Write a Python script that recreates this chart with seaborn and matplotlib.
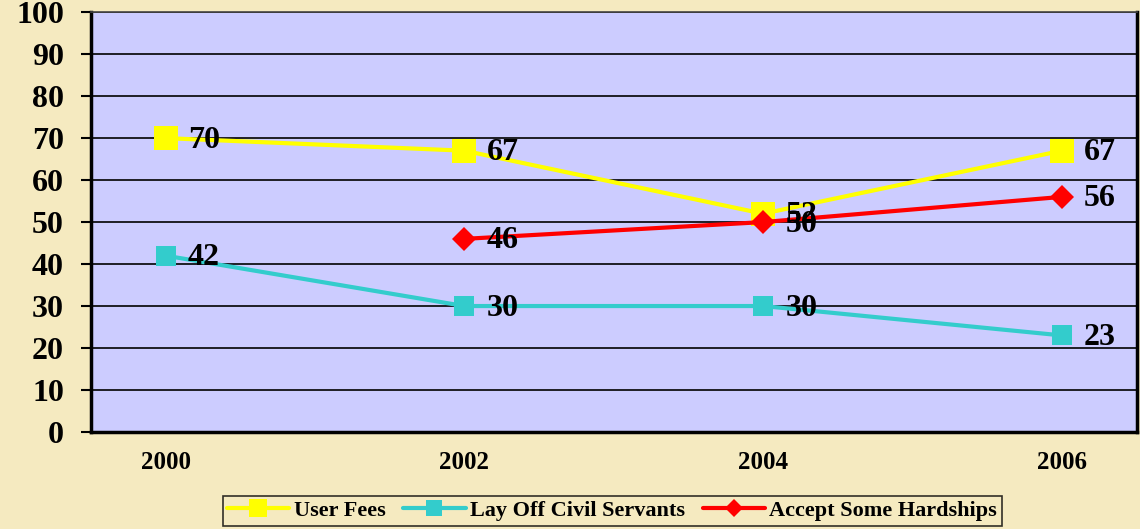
import numpy as np
import pandas as pd
import matplotlib
matplotlib.use("Agg")
import matplotlib.pyplot as plt
import seaborn as sns

years = [2000, 2002, 2004, 2006]
user_fees = [70, 67, 52, 67]
lay_off = [42, 30, 30, 23]
hardships = [np.nan, 46, 50, 56]
series_names = ["User Fees", "Lay Off Civil Servants", "Accept Some Hardships"]
y_ticks = list(range(0, 101, 10))

sns.set_style("white")
plt.rcParams['font.family'] = ['Liberation Serif', 'DejaVu Serif']
plt.rcParams['font.weight'] = 'bold'
plt.rcParams['text.color'] = 'black'
plt.rcParams['xtick.color'] = 'black'
plt.rcParams['ytick.color'] = 'black'
plt.rcParams['axes.labelcolor'] = 'black'

BG = "#F5EAC0"
PLOT_BG = "#CCCCFF"
colors = {"User Fees": "#FFFF00", "Lay Off Civil Servants": "#33CCCC", "Accept Some Hardships": "#FF0000"}
markers = {"User Fees": "s", "Lay Off Civil Servants": "s", "Accept Some Hardships": "D"}
msizes = {"User Fees": 17, "Lay Off Civil Servants": 15, "Accept Some Hardships": 12.5}

rows = []
for name, vals in zip(series_names, [user_fees, lay_off, hardships]):
    for y, v in zip(years, vals):
        rows.append({"year": y, "value": v, "series": name})
df = pd.DataFrame(rows)

fig = plt.figure(figsize=(11.4, 5.29), dpi=100, facecolor=BG)
ax = fig.add_axes([0.0798, 0.1834, 0.9172, 0.7936])
ax.set_facecolor(PLOT_BG)

for name in series_names:
    sub = df[df["series"] == name].dropna()
    sns.lineplot(data=sub, x="year", y="value", ax=ax, color=colors[name],
                 linewidth=3.0, marker=markers[name], markersize=msizes[name],
                 markeredgewidth=0, label=name, zorder=3)
    for x, v in zip(sub["year"], sub["value"]):
        ax.annotate(f"{int(v)}", xy=(x, v), xytext=(16, -1.5), textcoords="offset points",
                    ha="left", va="center", fontsize=23, fontweight="bold",
                    color="black", zorder=4)

ax.set_xlim(1999.5, 2006.5)
ax.set_ylim(0, 100)
ax.set_yticks(y_ticks)
ax.set_yticklabels([str(t) for t in y_ticks], fontsize=23, fontweight="bold")
ax.set_xticks(years)
ax.set_xticklabels([str(y) for y in years], fontsize=18, fontweight="bold")
ax.set_xticks(np.arange(1999.5, 2006.6, 1.0), minor=True)
ax.tick_params(axis="x", which="major", length=0, pad=14)
ax.tick_params(axis="x", which="minor", length=6, width=1.5, direction="out", color="black")
ax.tick_params(axis="y", which="major", length=7.5, width=1.5, direction="out", color="black", pad=12, left=True)
ax.yaxis.grid(True, color="black", linewidth=1.2, zorder=1)
ax.set_axisbelow(True)
ax.set_xlabel("")
ax.set_ylabel("")

for side in ["left", "bottom", "right"]:
    ax.spines[side].set_visible(True)
    ax.spines[side].set_color("black")
    ax.spines[side].set_linewidth(2.5)
ax.spines["top"].set_visible(True)
ax.spines["top"].set_color("#444444")
ax.spines["top"].set_linewidth(1.2)

handles, labels = ax.get_legend_handles_labels()
leg = fig.legend(handles, labels, loc="lower center", bbox_to_anchor=(0.537, 0.0),
                 ncol=3, frameon=True, fancybox=False, facecolor=BG, edgecolor="black",
                 prop={"family": "Liberation Serif", "weight": "bold", "size": 16},
                 handlelength=2.8, handletextpad=0.2, columnspacing=0.8,
                 borderpad=0.2, borderaxespad=0.15, markerscale=0.75)
leg.get_frame().set_linewidth(1.2)
if ax.get_legend() is not None:
    ax.get_legend().remove()

fig.savefig("out.png", dpi=100, facecolor=BG)
